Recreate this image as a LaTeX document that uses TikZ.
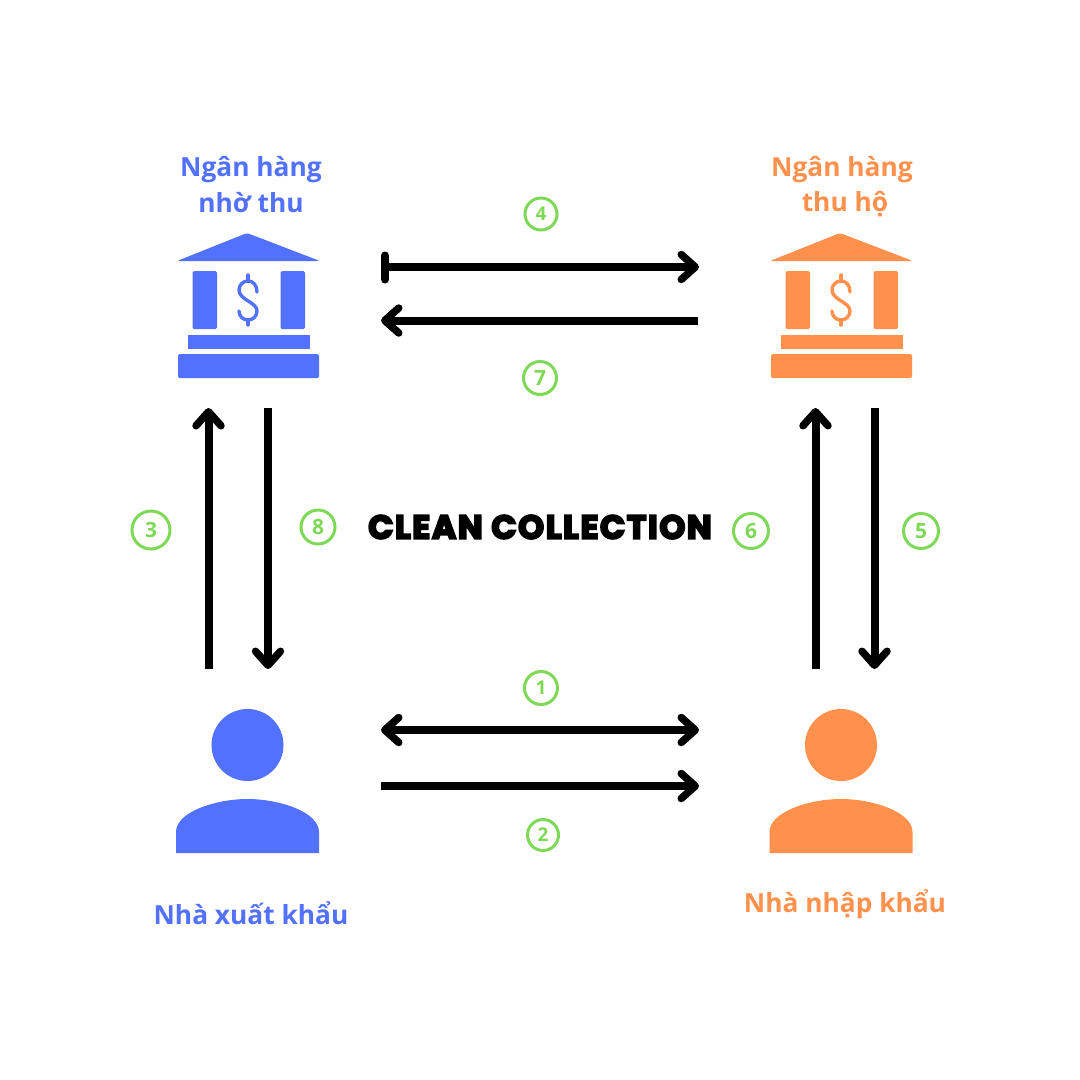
\documentclass[tikz,border=0pt]{standalone}
\usepackage{fontspec}
\usetikzlibrary{arrows.meta}
\setmainfont{Open Sans}
\newfontfamily\titlefont{Poppins}[LetterSpace=5]
\newcommand{\heavytext}[2]{\special{pdf:code q #1 w 2 Tr}#2\special{pdf:code Q}}
\definecolor{bluec}{HTML}{5271FF}
\definecolor{orangec}{HTML}{FF914D}
\definecolor{greenc}{HTML}{7ED957}
\tikzset{
  x=1pt,y=-1pt,
  tipb/.tip={Straight Barb[length=14pt,width=25pt,line width=7.5pt,round]},
  flow/.style={line width=8pt,black},
  num/.style={circle,draw=greenc,line width=3pt,text=greenc,inner sep=0pt,font=\bfseries\fontsize{#1}{#1}\selectfont},
  lab/.style={font=\bfseries\fontsize{26.3}{36}\selectfont,align=center,inner sep=0pt},
  pics/bank/.style={code={
    \fill[#1,rounded corners=2.5pt] (-71,28) -- (-1,0) -- (72,28) -- cycle;
    \fill[#1,rounded corners=1.5pt] (-55.5,38) rectangle (-31,96);
    \fill[#1,rounded corners=1.5pt] (32.5,38) rectangle (57,96);
    \fill[#1] (-60,101.5) rectangle (62,116);
    \fill[#1,rounded corners=1.5pt] (-70,121) rectangle (71,145);
    \draw[#1,line width=3.4pt,line cap=round]
      (9,59) .. controls (9,52) and (5,48) .. (0,48)
      .. controls (-5,48) and (-9,52) .. (-9,57)
      .. controls (-9,67) and (9,69) .. (9,78)
      .. controls (9,83) and (5,87) .. (0,87)
      .. controls (-5,87) and (-9,83) .. (-9,78);
    \draw[#1,line width=3.4pt,line cap=round] (0,42) -- (0,48) (0,87) -- (0,92);
  }},
  pics/person/.style={code={
    \fill[#1] (0,-54) circle[radius=36];
    \fill[#1] (-71.5,54) -- (-71.5,33) .. controls (-71.5,13) and (-32,0) .. (0,0)
      .. controls (32,0) and (71.5,13) .. (71.5,33) -- (71.5,54) -- cycle;
  }},
}
\begin{document}
\begin{tikzpicture}
\useasboundingbox (0,0) rectangle (1080,1080);
\fill[white] (0,0) rectangle (1080,1080);

% icons
\pic at (248,233) {bank=bluec};
\pic at (841,233) {bank=orangec};
\pic at (247.5,799) {person=bluec};
\pic at (841,799) {person=orangec};

% labels
\node[lab,text=bluec] (bankA1) at (251,170) {Ngân hàng};
\node[lab,text=bluec] (bankA2) at (251,203) {nhờ thu};
\node[lab,text=orangec] (bankB1) at (842,170) {Ngân hàng};
\node[lab,text=orangec] (bankB2) at (845,204) {thu hộ};
\node[lab,text=bluec] (exporter) at (251,913) {Nhà xuất khẩu};
\node[lab,text=orangec] (importer) at (845,904) {Nhà nhập khẩu};
\node[inner sep=0pt] (title) at (540,527) {\heavytext{2}{\titlefont\bfseries\fontsize{33}{33}\selectfont CLEAN COLLECTION}};

% connector ends
\coordinate (a4) at (385,267);   \coordinate (b4) at (699,267);
\coordinate (a7) at (698,320.5); \coordinate (b7) at (381,320.5);
\coordinate (a1) at (381,730);   \coordinate (b1) at (699,730);
\coordinate (a2) at (381,786);   \coordinate (b2) at (699,786);
\coordinate (a3) at (208.5,669); \coordinate (b3) at (208.5,408);
\coordinate (a8) at (268,408);   \coordinate (b8) at (268,669);
\coordinate (a6) at (815.5,669); \coordinate (b6) at (815.5,408);
\coordinate (a5) at (874.5,408); \coordinate (b5) at (874.5,669);
\coordinate (bar1) at (385,255.5); \coordinate (bar2) at (385,279.5);

\draw[flow,-{tipb}] (a4) -- (b4);
\draw[black,line width=8pt,line cap=round] (bar1) -- (bar2);
\draw[flow,-{tipb}] (a7) -- (b7);
\draw[flow,{tipb}-{tipb}] (a1) -- (b1);
\draw[flow,-{tipb}] (a2) -- (b2);
\draw[flow,-{tipb}] (a3) -- (b3);
\draw[flow,-{tipb}] (a8) -- (b8);
\draw[flow,-{tipb}] (a6) -- (b6);
\draw[flow,-{tipb}] (a5) -- (b5);

% numbers
\node[num=19,minimum size=33pt] (n1) at (541,688) {1};
\node[num=19,minimum size=31pt] (n2) at (543,835) {2};
\node[num=21,minimum size=38pt] (n3) at (151,530) {3};
\node[num=19,minimum size=32pt] (n4) at (541,214) {4};
\node[num=21,minimum size=35pt] (n5) at (921,531) {5};
\node[num=21,minimum size=35pt] (n6) at (751,531) {6};
\node[num=21,minimum size=33pt] (n7) at (540,378) {7};
\node[num=21,minimum size=34pt] (n8) at (318,527) {8};
\end{tikzpicture}
\end{document}
